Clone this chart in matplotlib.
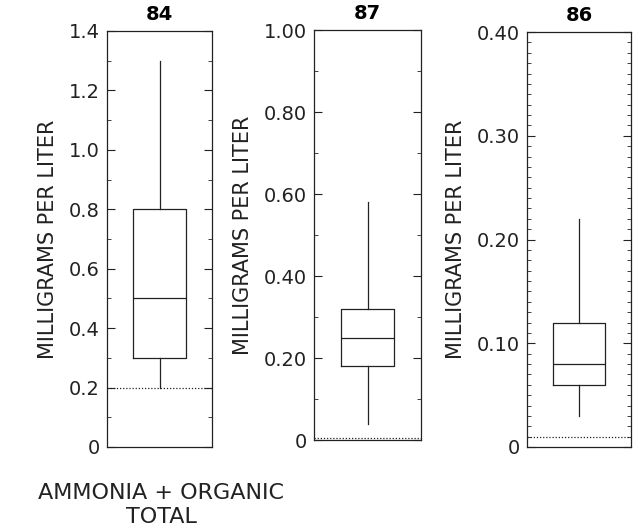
import numpy as np
import matplotlib.pyplot as plt
from matplotlib.ticker import MultipleLocator, FixedLocator

plt.rcParams['font.family'] = ['DejaVu Sans']

# Sites and box statistics (mg/L)
sites = ['84', '87', '86']
whis_lo = [0.20, 0.04, 0.03]
q1 = [0.30, 0.18, 0.06]
median = [0.50, 0.25, 0.08]
q3 = [0.80, 0.32, 0.12]
whis_hi = [1.30, 0.58, 0.22]
# reporting limit drawn as dotted line
limit = [0.20, 0.005, 0.01]

# axis settings for each panel
ymax = [1.4, 1.0, 0.40]
major_step = [0.2, 0.2, 0.1]
minor_step = [0.1, 0.1, 0.01]
tick_fmt = ['{:.1f}', '{:.2f}', '{:.2f}']

# panel rectangles in figure pixels (left, top, right, bottom)
W, H = 641, 532
rects = [(107, 31, 212, 447), (314, 30, 421, 440), (527, 32, 631, 447)]

fig = plt.figure(figsize=(W / 100, H / 100), dpi=100)

for i in range(3):
    l, t, r, b = rects[i]
    ax = fig.add_axes([l / W, (H - b) / H, (r - l) / W, (b - t) / H])
    stats = [dict(med=median[i], q1=q1[i], q3=q3[i],
                  whislo=whis_lo[i], whishi=whis_hi[i], fliers=[])]
    ax.bxp(stats, positions=[0.5], widths=0.5, showcaps=False,
           showfliers=False, manage_ticks=False,
           boxprops=dict(color='#222222', linewidth=0.9),
           whiskerprops=dict(color='#222222', linewidth=0.9),
           medianprops=dict(color='#222222', linewidth=0.9))
    ax.axhline(limit[i], color='#222222', linewidth=0.9, linestyle=(0, (1, 1.5)))

    ax.set_xlim(0, 1)
    ax.set_ylim(0, ymax[i])
    ticks = np.round(np.arange(0, ymax[i] + 1e-9, major_step[i]), 3)
    ax.yaxis.set_major_locator(FixedLocator(ticks))
    ax.set_yticklabels(['0'] + [tick_fmt[i].format(v) for v in ticks[1:]])
    ax.yaxis.set_minor_locator(MultipleLocator(minor_step[i]))
    ax.set_xticks([])
    ax.tick_params(axis='y', which='both', direction='in', left=True,
                   right=True, labelsize=14, pad=5, colors='#222222')
    ax.tick_params(axis='y', which='major', length=6, width=0.8)
    ax.tick_params(axis='y', which='minor', length=3, width=0.6)
    for sp in ax.spines.values():
        sp.set_linewidth(0.9)
        sp.set_color('#222222')
    ax.set_ylabel('MILLIGRAMS PER LITER', fontsize=15, labelpad=8, color='#222222')
    ax.set_title(sites[i], fontsize=14, fontweight='bold', pad=8)

fig.text(161 / W, 1 - 493 / H, 'AMMONIA + ORGANIC', ha='center', va='center',
         fontsize=16, color='#222222')
fig.text(161 / W, 1 - 517 / H, 'TOTAL', ha='center', va='center',
         fontsize=16, color='#222222')

fig.savefig('out.png', dpi=100)
